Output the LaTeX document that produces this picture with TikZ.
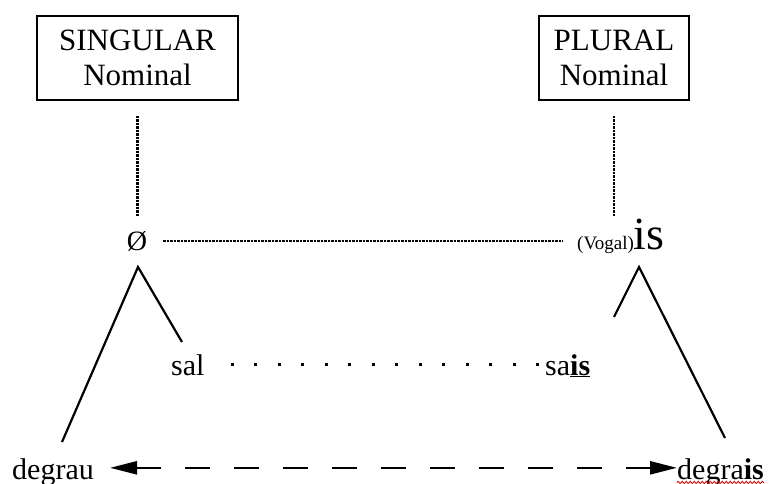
\documentclass[tikz,border=0pt]{standalone}
\usepackage{fontspec}
\setmainfont{Liberation Serif}
\usetikzlibrary{arrows.meta,decorations.pathmorphing}
\begin{document}
\begin{tikzpicture}[x=1pt,y=-1pt,
    box/.style={draw,line width=1.3pt,align=center,minimum height=84pt,
      font=\fontsize{31}{35}\selectfont},
    word/.style={anchor=base west,inner sep=0pt,font=\fontsize{30}{30}\selectfont},
    tie/.style={line width=2.5pt,dash pattern=on 2.4pt off 1.1pt},
    leg/.style={line width=2.2pt},
    pair/.style={line width=3pt,dash pattern=on 3pt off 20.5pt},
    link/.style={line width=2.4pt,dash pattern=on 25pt off 24pt,
      {Triangle[length=27pt,width=13pt]}-{Triangle[length=27pt,width=13pt]}}]
      \useasboundingbox (0,0) rectangle (772,484);
      \draw
        (137.5,58) node[box,minimum width=201pt] (sing){SINGULAR\\Nominal}
        (614,58) node[box,minimum width=150pt] (plur){PLURAL\\Nominal}
        (137,241) node[font=\fontsize{28}{28}\selectfont] (zero){Ø}
        (577,250) node[anchor=base west,inner sep=0pt] (vowel){{\fontsize{19}{19}\selectfont(Vogal)}{\fontsize{46}{46}\selectfont is}}
        (171,375) node[word] (sal){sal}
        (545,375) node[word] (sais){sa\underline{\textbf{is}}}
        (12,479) node[word] (degrau){degrau}
        (677,479) node[word] (degrais){degra\textbf{is}};
      \coordinate (lapex) at (138,267);
      \coordinate (lfoot) at (62,442);
      \coordinate (lbranch) at (182,342);
      \coordinate (rapex) at (639,267);
      \coordinate (rbranch) at (614,317);
      \coordinate (rfoot) at (725,438);
      \begin{scope}[tie]
        \draw[shorten <=15pt,shorten >=12pt] (sing.south) to (sing.south |- zero.north);
        \draw[shorten <=15pt,shorten >=12pt] (plur.south) to (plur.south |- zero.north);
        \draw[shorten <=12.5pt,shorten >=14pt] (zero.east) to (zero.east -| vowel.west);
      \end{scope}
      \begin{scope}[leg]
        \draw (lfoot) -- (lapex) -- (lbranch);
        \draw (rbranch) -- (rapex) -- (rfoot);
      \end{scope}
      \draw[pair,shorten <=26pt,shorten >=4pt] (sal.east) to (sal.east -| sais.west);
      \draw[link,shorten <=16pt] ([yshift=4pt]degrau.east) to ([yshift=4pt]degrau.east -| degrais.west);
      \draw[red!80!black,line width=0.8pt,decorate,decoration={snake,amplitude=1.2pt,segment length=4pt}]
        ([yshift=-3.5pt]degrais.base west) to ([yshift=-3.5pt]degrais.base east);
    \end{tikzpicture}
\end{document}
